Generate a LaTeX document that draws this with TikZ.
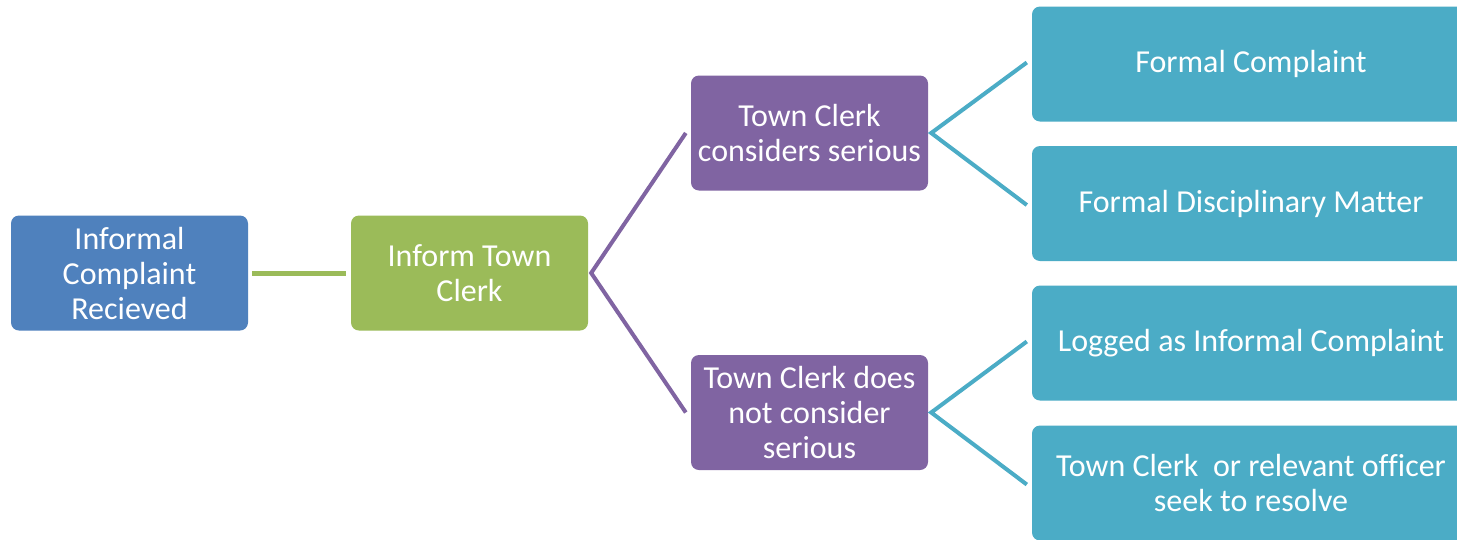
\documentclass[tikz,border=0pt]{standalone}
\usepackage{fontspec}
\setmainfont[Ligatures=NoCommon]{Carlito}
\definecolor{cblue}{HTML}{4F81BD}
\definecolor{cgreen}{HTML}{9BBB59}
\definecolor{cpurple}{HTML}{8064A2}
\definecolor{cteal}{HTML}{4BACC6}
\begin{document}
\begin{tikzpicture}[x=1pt,y=-1pt,
  box/.style={rounded corners=8pt, text=white, align=center, inner sep=0pt,
    font=\fontsize{32}{35}\selectfont, minimum height=115pt},
  sbox/.style={box, minimum width=237pt},
  wbox/.style={box, minimum width=438pt, fill=cteal},
  ln/.style={line width=4pt}]
\useasboundingbox (0,0) rectangle (1457,539);
\clip (0,0) rectangle (1457,539);
\fill[white] (0,0) rectangle (1457,539);
\node[sbox, fill=cblue] (n1) at (129.5,273) {Informal\\Complaint\\Recieved};
\node[sbox, fill=cgreen] (n2) at (469.5,273) {Inform Town\\Clerk};
\node[sbox, fill=cpurple] (n3) at (809.5,133) {Town Clerk\\considers serious};
\node[sbox, fill=cpurple] (n4) at (809.5,412.5) {Town Clerk does\\not consider\\serious};
\node[wbox] (n5) at (1251,64) {Formal Complaint};
\node[wbox] (n6) at (1251,203.5) {Formal Disciplinary Matter};
\node[wbox] (n7) at (1251,343) {Logged as Informal Complaint};
\node[wbox] (n8) at (1251,483) {Town Clerk\ \ or relevant officer\\seek to resolve};
\draw[ln, line width=5pt, cgreen] ([xshift=4pt]n1.east) -- ([xshift=-5pt]n2.west);
\draw[ln, cpurple] ([xshift=-5pt]n3.west) -- ([xshift=3pt]n2.east) -- ([xshift=-5pt]n4.west);
\draw[ln, cteal] ([xshift=-5pt,yshift=1.5pt]n5.west) -- ([xshift=3pt]n3.east) -- ([xshift=-5pt,yshift=-1.5pt]n6.west);
\draw[ln, cteal] ([xshift=-5pt,yshift=1.5pt]n7.west) -- ([xshift=3pt]n4.east) -- ([xshift=-5pt,yshift=-1.5pt]n8.west);
\end{tikzpicture}
\end{document}
